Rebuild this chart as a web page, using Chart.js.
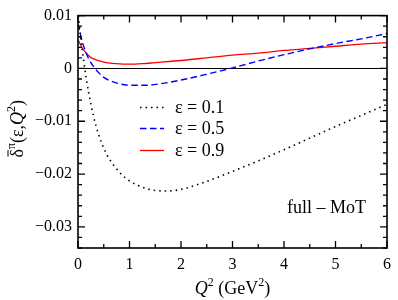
<!DOCTYPE html>
<html><head><meta charset="utf-8">
<script src="https://cdn.jsdelivr.net/npm/chart.js@4"></script>
<style>html,body{margin:0;padding:0;background:#fff}#wrap{width:398px;height:300px}</style>
</head><body><div id="wrap"><canvas id="c" width="398" height="300"></canvas></div>
<script>
// ---- data ----
const q2_eps01 = [0, 0.05, 0.1, 0.15, 0.2, 0.3, 0.4, 0.5, 0.6, 0.8, 1.0, 1.25, 1.5, 1.75, 2.0, 2.5, 3.0, 3.5, 4.0, 4.5, 5.0, 5.5, 6.0];
const delta_eps01 = [0.0110, 0.0060, 0.0022, -0.0012, -0.0042, -0.0090, -0.0125, -0.0151, -0.0170, -0.0196, -0.0213, -0.0225, -0.0231, -0.0232, -0.0229, -0.0214, -0.0195, -0.0175, -0.0154, -0.0132, -0.0110, -0.0089, -0.0068];
const q2_eps05 = [0, 0.05, 0.1, 0.2, 0.3, 0.4, 0.5, 0.7, 0.9, 1.1, 1.3, 1.6, 2.0, 2.5, 3.0, 3.5, 4.0, 4.5, 5.0, 5.5, 6.0];
const delta_eps05 = [0.0085, 0.0063, 0.0045, 0.0020, 0.0004, -0.0008, -0.0017, -0.0026, -0.0031, -0.0032, -0.0032, -0.0029, -0.0022, -0.0011, 0.0001, 0.0014, 0.0026, 0.0037, 0.0047, 0.0056, 0.0066];
const q2_eps09 = [0, 0.1, 0.2, 0.3, 0.5, 0.75, 1.0, 1.25, 1.5, 2.0, 2.5, 3.0, 3.5, 4.0, 4.5, 5.0, 5.5, 6.0];
const delta_eps09 = [0.0054, 0.0036, 0.0025, 0.0018, 0.0012, 0.0009, 0.0008, 0.0009, 0.0011, 0.0015, 0.0020, 0.0025, 0.0029, 0.0034, 0.0038, 0.0042, 0.0046, 0.0049];
const seriesLabels = ['ε = 0.1', 'ε = 0.5', 'ε = 0.9'];
const xTicks = [0, 1, 2, 3, 4, 5, 6];
const yTicks = [0.01, 0, -0.01, -0.02, -0.03];
const panelLabel = 'full – MoT';

const SERIF = 'Liberation Serif';
Chart.defaults.font.family = SERIF;
const pts = (xs, ys) => xs.map((x, i) => ({x: x, y: ys[i]}));

const styles = [
  {color: '#000000', width: 1.6, dash: [1.5, 4]},
  {color: '#0000ff', width: 1.4, dash: [6.5, 3.5]},
  {color: '#ff0000', width: 1.3, dash: []}
];
const dataSets = [pts(q2_eps01, delta_eps01), pts(q2_eps05, delta_eps05), pts(q2_eps09, delta_eps09)];

function fontStr(size, italic) { return (italic ? 'italic ' : '') + size + 'px "' + SERIF + '", serif'; }

function richText(ctx, parts, x, y, align) {
  let total = 0;
  parts.forEach(p => { ctx.font = fontStr(p[1], p[2]); p.w = ctx.measureText(p[0]).width; total += p.w; });
  let cx = align === 'center' ? x - total / 2 : x;
  ctx.textAlign = 'left';
  ctx.textBaseline = 'alphabetic';
  parts.forEach(p => {
    ctx.font = fontStr(p[1], p[2]);
    ctx.fillText(p[0], cx, y - (p[3] || 0));
    if (p[4]) {
      ctx.save(); ctx.lineWidth = 1; ctx.beginPath();
      ctx.moveTo(cx + 1, y - p[4]); ctx.lineTo(cx + p.w - 1, y - p[4]); ctx.stroke(); ctx.restore();
    }
    cx += p.w;
  });
}

const decor = {
  id: 'decor',
  beforeDatasetsDraw(chart) {
    const {ctx, chartArea: a, scales: {y}} = chart;
    ctx.save();
    ctx.strokeStyle = '#000'; ctx.lineWidth = 1.2;
    const y0 = Math.round(y.getPixelForValue(0)) + 0.5;
    ctx.beginPath(); ctx.moveTo(a.left, y0); ctx.lineTo(a.right, y0); ctx.stroke();
    ctx.restore();
  },
  afterDatasetsDraw(chart) {
    const {ctx, chartArea: a, scales: {x, y}} = chart;
    ctx.save();
    ctx.strokeStyle = '#000';
    ctx.lineWidth = 1.6;
    ctx.strokeRect(a.left, a.top, a.right - a.left, a.bottom - a.top);
    ctx.lineWidth = 1.3;
    ctx.beginPath();
    for (let v = 0; v <= 6.001; v += 0.5) {
      const px = x.getPixelForValue(v);
      const L = Math.abs(v - Math.round(v)) < 1e-6 ? 7 : 4;
      ctx.moveTo(px, a.bottom); ctx.lineTo(px, a.bottom - L);
      ctx.moveTo(px, a.top); ctx.lineTo(px, a.top + L);
    }
    for (let k = -17; k <= 5; k++) {
      const v = k * 0.002;
      const py = y.getPixelForValue(v);
      const L = (k % 5 === 0) ? 7 : 4;
      ctx.moveTo(a.left, py); ctx.lineTo(a.left + L, py);
      ctx.moveTo(a.right, py); ctx.lineTo(a.right - L, py);
    }
    ctx.stroke();
    ctx.restore();
  },
  afterDraw(chart) {
    const {ctx, chartArea: a} = chart;
    ctx.save();
    ctx.fillStyle = '#000'; ctx.strokeStyle = '#000';
    const rows = [107, 128, 150];
    seriesLabels.forEach((lab, i) => {
      const s = styles[i];
      ctx.save();
      ctx.strokeStyle = s.color; ctx.lineWidth = s.width; ctx.setLineDash(s.dash);
      ctx.beginPath(); ctx.moveTo(140, rows[i] + 0.5); ctx.lineTo(164, rows[i] + 0.5); ctx.stroke();
      ctx.restore();
      ctx.font = fontStr(18); ctx.textAlign = 'left'; ctx.textBaseline = 'middle';
      ctx.fillText(lab, 175, rows[i] + 1);
    });
    ctx.font = fontStr(18); ctx.textAlign = 'left'; ctx.textBaseline = 'middle';
    ctx.fillText(panelLabel, 287, 208);
    richText(ctx, [['Q', 18, true, 0], ['2', 12, false, 8], [' (GeV', 18, false, 0], ['2', 12, false, 8], [')', 18, false, 0]], (a.left + a.right) / 2, 294, 'center');
    ctx.save();
    ctx.translate(23, (a.top + a.bottom) / 2 - 3);
    ctx.rotate(-Math.PI / 2);
    richText(ctx, [['δ', 18, false, 0, 15], ['π', 12, false, 8], ['(ε,', 18, false, 0], ['Q', 18, true, 0], ['2', 12, false, 8], [')', 18, false, 0]], 0, 0, 'center');
    ctx.restore();
    ctx.restore();
  }
};

new Chart(document.getElementById('c'), {
  type: 'line',
  data: {
    datasets: dataSets.map((d, i) => ({
      label: seriesLabels[i],
      data: d,
      borderColor: styles[i].color,
      borderWidth: styles[i].width,
      borderDash: styles[i].dash,
      pointRadius: 0,
      fill: false,
      cubicInterpolationMode: 'monotone'
    }))
  },
  options: {
    responsive: false,
    animation: false,
    layout: {padding: {left: 0, top: 5, right: 5, bottom: 0}},
    plugins: {legend: {display: false}, tooltip: {enabled: false}},
    scales: {
      x: {
        type: 'linear', min: 0, max: 6,
        grid: {display: false, drawTicks: false}, border: {display: false},
        afterBuildTicks: s => { s.ticks = xTicks.map(v => ({value: v})); },
        ticks: {color: '#000', font: {family: SERIF, size: 16}, padding: 7, maxRotation: 0,
                callback: v => String(v)},
        afterFit: s => { s.height = 52; }
      },
      y: {
        type: 'linear', min: -0.034, max: 0.01,
        grid: {display: false, drawTicks: false}, border: {display: false},
        afterBuildTicks: s => { s.ticks = yTicks.map(v => ({value: v})); },
        ticks: {color: '#000', font: {family: SERIF, size: 16}, padding: 6,
                callback: v => Math.abs(v) < 1e-9 ? '0' : (v < 0 ? '\u2212' : '') + Math.abs(v).toFixed(2)},
        afterFit: s => { s.width = 78; }
      }
    }
  },
  plugins: [decor]
});
</script>
</body></html>
